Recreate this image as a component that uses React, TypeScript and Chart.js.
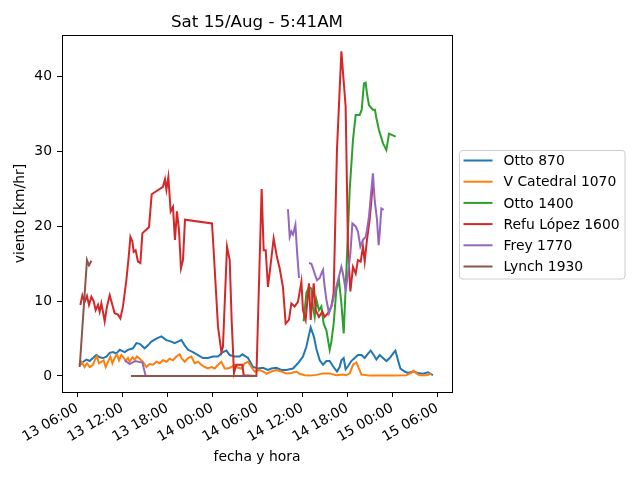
import React, { useEffect, useRef } from "react";
import { Chart, registerables } from "chart.js";

Chart.register(...registerables);

// hours counted from 13/Aug 00:00, wind in km/hr; null = gap in the record
const seriesNames = ["Otto 870", "V Catedral 1070", "Otto 1400", "Refu López 1600", "Frey 1770", "Lynch 1930"];
const seriesColors = ["#1f77b4", "#ff7f0e", "#2ca02c", "#d62728", "#9467bd", "#8c564b"];

const xTickHours = [6, 12, 18, 24, 30, 36, 42, 48, 54];
const xTickLabels = ["13 06:00", "13 12:00", "13 18:00", "14 00:00", "14 06:00", "14 12:00", "14 18:00", "15 00:00", "15 06:00"];
const yTicks = [0, 10, 20, 30, 40];

const otto870: [number, number | null][] = [
  [6.4, 1.5], [6.53, 1.7], [7.2, 2.2], [7.64, 2.0], [8.08, 2.4], [8.53, 2.8], [8.97, 2.5], [9.41, 2.4],
  [9.87, 2.6], [10.31, 3.1], [10.75, 3.2], [11.2, 3.0], [11.64, 3.5], [12.31, 3.2], [12.75, 3.5], [13.41, 3.7],
  [13.87, 4.4], [14.31, 4.3], [14.97, 3.7], [15.41, 4.1], [15.87, 4.6], [16.53, 5.0], [17.2, 5.3], [17.87, 4.8],
  [18.53, 4.6], [18.97, 4.4], [19.41, 4.6], [19.87, 4.8], [20.31, 4.1], [20.75, 3.5], [21.41, 3.2], [22.08, 2.8],
  [22.75, 2.4], [23.41, 2.4], [24.08, 2.6], [24.75, 2.6], [25.41, 3.2], [25.87, 3.4], [26.31, 2.8], [26.97, 2.6],
  [27.64, 2.6], [28.0, 2.9], [28.31, 2.7], [28.75, 2.4], [29.41, 1.2], [30.08, 1.0], [30.75, 1.1], [31.41, 0.8],
  [31.87, 1.0], [32.53, 1.1], [33.2, 0.8], [33.87, 0.8], [34.75, 1.0], [35.41, 1.7],
  [36.08, 2.6], [36.53, 3.9], [37.11, 6.5], [37.55, 5.2], [37.87, 3.6], [38.31, 2.1], [38.75, 1.5], [39.2, 2.0],
  [39.64, 2.0], [40.08, 1.3], [40.61, 0.6], [40.97, 1.2], [41.2, 2.1], [41.51, 2.4], [41.77, 0.9], [42.08, 1.3],
  [42.53, 2.0], [42.97, 2.4], [43.41, 2.8], [43.87, 2.8], [44.31, 2.4], [44.75, 3.0], [45.11, 3.4], [45.51, 2.8],
  [45.87, 2.2], [46.31, 2.8], [46.75, 2.4], [47.2, 2.0], [47.64, 2.4], [48.08, 3.0], [48.4, 3.4], [48.75, 2.1],
  [49.07, 1.0], [49.64, 0.6], [50.08, 0.4], [50.75, 0.6], [51.41, 0.4], [52.08, 0.3], [52.75, 0.5], [53.41, 0.1],
];

const vCatedral1070: [number, number | null][] = [
  [6.21, 1.5], [6.53, 1.9], [6.97, 1.2], [7.28, 1.7], [7.64, 1.2], [8.08, 1.5], [8.31, 2.1], [8.61, 2.6],
  [8.88, 1.7], [9.2, 1.9], [9.51, 2.1], [9.77, 1.2], [10.08, 1.9], [10.4, 2.6], [10.67, 1.7], [10.97, 2.4],
  [11.28, 2.9], [11.55, 2.1], [11.87, 2.8], [12.08, 2.6], [12.44, 2.0], [12.75, 2.4], [12.97, 1.9], [13.33, 2.5],
  [13.64, 2.2], [13.95, 2.6], [14.31, 2.3], [14.75, 1.9], [15.2, 1.2], [15.64, 1.6], [16.08, 1.5], [16.53, 1.9],
  [16.97, 1.7], [17.41, 2.1], [17.87, 1.9], [18.31, 2.3], [18.75, 2.1], [19.2, 2.6], [19.64, 2.9], [19.87, 2.4],
  [20.31, 1.9], [20.75, 2.4], [21.2, 2.6], [21.64, 1.7], [22.08, 1.9], [22.53, 1.5], [22.97, 1.2], [23.41, 1.0],
  [23.87, 1.2], [24.31, 1.0], [24.75, 1.5], [25.2, 1.9], [25.64, 1.0], [26.08, 1.0], [26.53, 1.2], [26.97, 1.5],
  [27.41, 1.1], [27.87, 1.0], [28.31, 1.7], [28.75, 1.9], [29.2, 1.2], [29.64, 0.6], [30.31, 0.8], [30.97, 0.5],
  [31.2, 0.3], [31.87, 0.6], [32.53, 0.8], [33.2, 0.6], [33.87, 0.35], [34.53, 0.4], [35.2, 0.6], [35.64, 0.3],
  [36.31, 0.1], [36.97, 0.05], [37.87, 0.15], [38.75, 0.35], [39.64, 0.35], [40.53, 0.1], [41.41, 0.2], [41.87, 0.1],
  [42.31, 0.35], [42.75, 1.5], [43.2, 1.8], [43.55, 1.0], [43.87, 0.2], [44.97, 0.05], [46.31, 0.05], [48.08, 0.05],
  [49.87, 0.1], [50.53, 0.4], [50.84, 0.7], [51.2, 0.35], [51.64, 0.1], [52.53, 0.1], [53.2, 0.3],
];

const otto1400: [number, number | null][] = [
  [36.17, 7.3], [36.53, 11.1], [36.88, 11.9], [37.2, 11.7], [37.41, 9.3], [37.64, 7.9], [37.87, 10.2], [38.21, 8.8],
  [38.53, 9.3], [38.84, 7.0], [39.2, 6.1], [39.64, 3.5], [39.87, 4.6], [40.17, 7.0], [40.53, 11.5], [40.88, 12.8],
  [41.2, 9.7], [41.51, 5.7], [41.87, 14.2], [42.31, 24.9], [42.75, 31.6], [43.11, 34.9], [43.64, 34.9], [43.91, 35.6],
  [44.21, 39.1], [44.44, 39.2], [44.61, 37.8], [44.88, 36.2], [45.41, 35.6], [45.68, 35.6], [45.87, 34.5], [46.21, 32.9],
  [46.75, 31.1], [47.2, 30.2], [47.55, 32.4], [48.44, 32.0],
];

const refuLopez1600: [number, number | null][] = [
  [6.4, 9.5], [6.67, 10.8], [6.97, 9.9], [7.28, 10.7], [7.55, 9.5], [7.87, 10.6], [8.17, 10.0], [8.44, 8.8],
  [8.75, 9.5], [8.97, 8.6], [9.2, 9.7], [9.41, 8.6], [9.64, 7.3], [9.95, 9.3], [10.31, 10.8], [10.67, 9.5],
  [10.97, 8.4], [11.41, 8.2], [11.73, 7.7], [12.08, 9.3], [12.53, 12.8], [12.84, 15.9], [13.07, 18.6], [13.33, 18.0],
  [13.51, 16.6], [13.77, 16.8], [14.08, 15.3], [14.4, 15.1], [14.67, 19.1], [15.11, 19.5], [15.55, 19.9], [15.91, 24.3],
  [17.41, 25.3], [17.68, 26.3], [17.87, 24.9], [18.13, 26.6], [18.44, 22.0], [18.75, 22.6], [19.01, 18.2], [19.28, 22.0],
  [19.55, 19.5], [19.81, 14.4], [20.08, 15.5], [20.35, 20.9], [23.95, 20.4], [24.17, 16.8], [24.75, 6.6], [25.2, 3.2],
  [25.41, 3.9], [25.95, 17.3], [26.31, 15.5], [26.57, 7.5], [26.88, 0.4], [27.2, 1.5], [28.0, 1.5], [28.17, 0.1],
  [29.87, 0], [30.57, 25.0], [30.84, 16.8], [31.11, 16.8], [31.41, 11.9], [31.73, 14.6], [32.17, 18.4], [32.61, 15.9],
  [32.97, 14.4], [33.41, 11.9], [33.77, 7.0], [34.21, 7.5], [34.53, 9.7], [34.97, 9.3], [35.41, 9.9], [35.87, 12.6],
  [36.08, 8.8], [36.44, 7.5], [36.88, 12.4], [37.11, 7.5], [37.51, 12.4], [37.77, 8.8], [38.21, 7.9], [38.67, 8.6],
  [38.97, 7.9], [39.41, 8.4], [39.87, 9.3], [40.17, 11.1], [40.61, 30.2], [41.2, 43.4], [41.77, 36.0], [42.08, 17.3],
  [42.4, 11.3], [42.75, 14.6], [43.11, 13.7], [43.41, 15.5], [43.77, 15.3], [44.08, 17.3], [44.31, 15.3], [44.61, 18.2],
  [44.97, 20.9], [45.41, 25.8],
];

const frey1770: [number, number | null][] = [
  [12.31, 2.1], [12.97, 1.6], [13.7, 2.0], [14.67, 1.8], [15.11, 0], [29.85, 0], [29.9, null],
  [34.08, 22.3], [34.31, 18.6], [34.53, 19.3], [34.75, 18.9], [35.07, 20.2], [35.28, 16.8], [35.55, 13.1], [36.2, null],
  [36.88, 15.1], [37.2, 15.0], [37.41, 14.4], [37.64, 13.7], [37.95, 12.8], [38.31, 13.1], [38.53, 13.7], [38.75, 14.2],
  [38.97, 11.9], [39.2, 10.2], [39.55, 8.4], [39.87, 9.3], [40.31, 11.1], [40.75, 12.8], [41.2, 14.6], [41.41, 13.7],
  [41.77, 11.5], [42.08, 13.7], [42.4, 16.4], [42.67, 20.4], [43.11, 20.0], [43.41, 19.3], [43.73, 17.3], [44.08, 18.2],
  [44.44, 18.6], [44.61, 19.5], [44.88, 21.3], [45.2, 24.9], [45.41, 27.1], [45.64, 23.5], [45.95, 20.9], [46.17, 17.5],
  [46.31, 19.1], [46.53, 22.4], [46.84, 22.2],
];

const lynch1930: [number, number | null][] = [
  [6.31, 1.2], [7.28, 15.5], [7.55, 14.8], [7.87, 15.4], [8.0, null], [13.15, 0], [29.9, 0],
];

const allSeries = [otto870, vCatedral1070, otto1400, refuLopez1600, frey1770, lynch1930];

const FONT = "'DejaVu Sans', sans-serif";

const decorations = {
  id: "decorations",
  afterDraw(chart: Chart) {
    const { ctx, chartArea: a } = chart;
    ctx.save();
    // axes frame
    ctx.strokeStyle = "#000";
    ctx.lineWidth = 1;
    ctx.strokeRect(Math.round(a.left) + 0.5, Math.round(a.top) + 0.5, Math.round(a.right - a.left), Math.round(a.bottom - a.top));

    // title
    ctx.fillStyle = "#000";
    ctx.font = `16.7px ${FONT}`;
    ctx.textAlign = "center";
    ctx.textBaseline = "alphabetic";
    ctx.fillText("Sat 15/Aug - 5:41AM", (a.left + a.right) / 2, 27);

    // legend outside on the right
    const bx = a.right + 7.5;
    const by = 150.5;
    ctx.beginPath();
    ctx.roundRect(bx, by, 165.5, 128.5, 3);
    ctx.fillStyle = "rgba(255,255,255,0.8)";
    ctx.fill();
    ctx.strokeStyle = "#cccccc";
    ctx.stroke();
    ctx.font = `13.9px ${FONT}`;
    ctx.textAlign = "left";
    ctx.textBaseline = "middle";
    seriesNames.forEach((name, i) => {
      const y = 160.5 + i * 21.2;
      ctx.strokeStyle = seriesColors[i];
      ctx.lineWidth = 2;
      ctx.beginPath();
      ctx.moveTo(bx + 4, y);
      ctx.lineTo(bx + 33, y);
      ctx.stroke();
      ctx.fillStyle = "#000";
      ctx.fillText(name, bx + 44, y + 1);
    });
    ctx.restore();
  },
};

const App: React.FC = () => {
  const chartRef = useRef<HTMLCanvasElement | null>(null);
  const chartInstance = useRef<Chart | null>(null);

  useEffect(() => {
    if (!chartRef.current) return;
    if (chartInstance.current) chartInstance.current.destroy();

    Chart.defaults.font.family = FONT;
    Chart.defaults.color = "#000";

    chartInstance.current = new Chart(chartRef.current, {
      type: "line",
      data: {
        datasets: allSeries.map((series, i) => ({
          label: seriesNames[i],
          data: series.map(([x, y]) => ({ x, y })),
          borderColor: seriesColors[i],
          backgroundColor: seriesColors[i],
          borderWidth: 2,
          pointRadius: 0,
          tension: 0,
          spanGaps: false,
          order: allSeries.length - 1 - i,
        })),
      },
      options: {
        responsive: false,
        animation: false,
        layout: { padding: { top: 35, right: 188, left: 0, bottom: 0 } },
        plugins: {
          legend: { display: false },
          title: { display: false },
          tooltip: { enabled: false },
        },
        scales: {
          x: {
            type: "linear",
            min: 3.95,
            max: 55.95,
            afterBuildTicks: (s: any) => {
              s.ticks = xTickHours.map((v) => ({ value: v }));
            },
            afterFit: (s: any) => {
              s.height = 88;
            },
            ticks: {
              autoSkip: false,
              minRotation: 30,
              maxRotation: 30,
              padding: 3,
              color: "#000",
              font: { size: 13.9 },
              callback: (v: any) => xTickLabels[xTickHours.indexOf(Number(v))] ?? "",
            },
            grid: { drawOnChartArea: false, drawTicks: true, tickLength: 5, color: "#000" },
            border: { display: false },
            title: {
              display: true,
              text: "fecha y hora",
              color: "#000",
              font: { size: 13.9 },
              padding: { top: 0, bottom: 14.6 },
            },
          },
          y: {
            min: -2.14,
            max: 45.59,
            afterBuildTicks: (s: any) => {
              s.ticks = yTicks.map((v) => ({ value: v }));
            },
            afterFit: (s: any) => {
              s.width = 62;
            },
            ticks: { padding: 5, color: "#000", font: { size: 13.9 } },
            grid: { drawOnChartArea: false, drawTicks: true, tickLength: 5, color: "#000" },
            border: { display: false },
            title: {
              display: true,
              text: "viento [km/hr]",
              color: "#000",
              font: { size: 13.9 },
              padding: { top: 12, bottom: 0 },
            },
          },
        },
      },
      plugins: [decorations],
    });

    return () => {
      if (chartInstance.current) {
        chartInstance.current.destroy();
        chartInstance.current = null;
      }
    };
  }, []);

  return (
    <div style={{ position: "fixed", left: 0, top: 0, width: 640, height: 480, background: "#fff" }}>
      <canvas ref={chartRef} width={640} height={480} />
    </div>
  );
};

export default App;
